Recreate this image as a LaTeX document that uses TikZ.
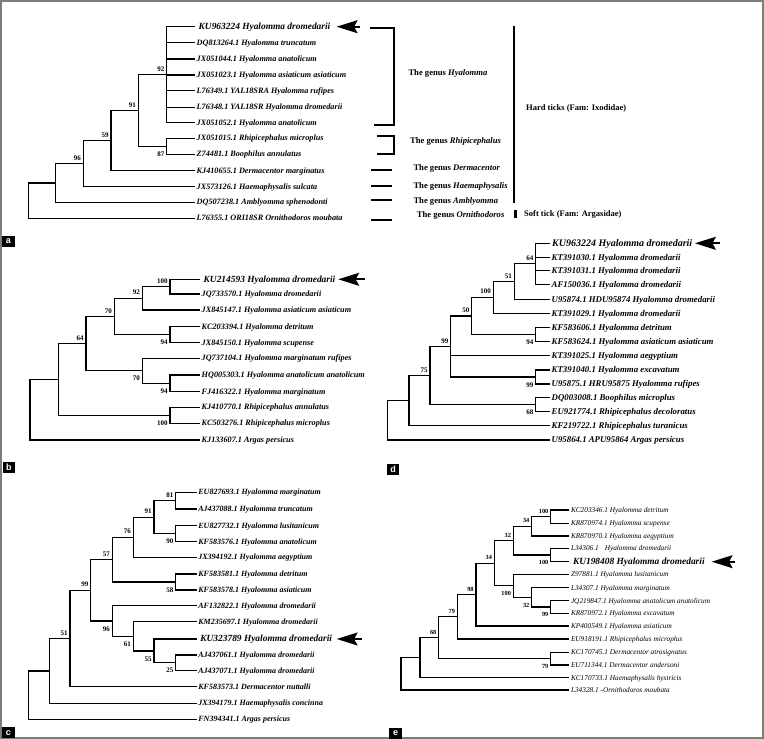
\documentclass[tikz,border=0pt]{standalone}
\usepackage{fontspec}
\setmainfont{Liberation Serif}
\newfontfamily\lblsans{Liberation Sans}
\usetikzlibrary{arrows.meta}
\newcommand\bsu[4]{\node[#1,anchor=east] (#2) at ([shift={(-2.2,-5.8)}]#3) {#4};}
\newcommand\bsd[4]{\node[#1,anchor=east] (#2) at ([shift={(-2.2,7.8)}]#3) {#4};}
\newcommand\kuarr[2]{\fill (#1) -- ++(21,-6.6) -- ++(-3.6,6.6) -- ++(3.6,6.6) -- cycle;
  \draw[line width=2.2pt] ([shift={(17,0)}]#1) -- (#2);}
\begin{document}
\begin{tikzpicture}[x=1pt,y=-1pt,
  edge/.style={line width=1.35pt},
  lf/.style={anchor=west, inner xsep=1.5pt, inner ysep=0pt, text depth=0pt},
  fa/.style={lf, font=\fontsize{8.2}{9}\selectfont\bfseries\itshape, text height=5.1pt},
  fc/.style={lf, font=\fontsize{8.0}{9}\selectfont\bfseries\itshape, text height=5.0pt},
  fd/.style={lf, font=\fontsize{8.8}{9}\selectfont\bfseries\itshape, text height=5.5pt},
  fe/.style={lf, font=\fontsize{7.3}{8}\selectfont\itshape, text height=4.6pt},
  ku/.style={lf, inner xsep=3.5pt, font=\fontsize{9.4}{10}\selectfont\bfseries\itshape, text height=5.9pt},
  kud/.style={lf, inner xsep=2pt, font=\fontsize{10}{11}\selectfont\bfseries\itshape, text height=6.2pt},
  bs/.style={inner sep=0pt, font=\fontsize{7}{8}\selectfont\bfseries, text height=4.7pt, text depth=0pt},
  bse/.style={inner sep=0pt, font=\fontsize{6.3}{7}\selectfont\bfseries, text height=4.2pt, text depth=0pt},
  gen/.style={anchor=west, inner sep=0pt, font=\fontsize{8.6}{10}\selectfont\bfseries},
  fam/.style={anchor=west, inner sep=0pt, font=\fontsize{8.5}{10}\selectfont\bfseries},
  brk/.style={line width=2.2pt},
  bigbar/.style={line width=2.6pt},
  plab/.style={fill=black, text=white, font=\fontsize{9}{9}\selectfont\lblsans\bfseries, minimum width=12.5pt, minimum height=11pt, inner sep=0pt}
]
\useasboundingbox (0,0) rectangle (764,739);
\draw[line width=1.6pt, color={rgb,255:red,125;green,125;blue,125}] (0.8,0.8) rectangle (763.2,737.8);

% ================= Panel a =================
\node[ku] (a1) at (195,26.7) {KU963224 Hyalomma dromedarii};
\node[fa] (a2) at (195,42.7) {DQ813264.1 Hyalomma truncatum};
\node[fa] (a3) at (195,59) {JX051044.1 Hyalomma anatolicum};
\node[fa] (a4) at (195,75) {JX051023.1 Hyalomma asiaticum asiaticum};
\node[fa] (a5) at (195,90.7) {L76349.1 YAL18SRA Hyalomma rufipes};
\node[fa] (a6) at (195,107.3) {L76348.1 YAL18SR Hyalomma dromedarii};
\node[fa] (a7) at (195,122.7) {JX051052.1 Hyalomma anatolicum};
\node[fa] (a8) at (195,138.3) {JX051015.1 Rhipicephalus microplus};
\node[fa] (a9) at (195,154.3) {Z74481.1 Boophilus annulatus};
\node[fa] (a10) at (195,170.7) {KJ410655.1 Dermacentor marginatus};
\node[fa] (a11) at (195,186.7) {JX573126.1 Haemaphysalis sulcata};
\node[fa] (a12) at (195,202.3) {DQ507238.1 Amblyomma sphenodonti};
\node[fa] (a13) at (195,218.3) {L76355.1 ORI18SR Ornithodoros moubata};
\coordinate (aH) at (166.7,74.7);
\coordinate (aR) at (166.7,146.3);
\coordinate (a91) at (138.3,110.5);
\coordinate (a59) at (111,140.6);
\coordinate (a96) at (83.3,163.6);
\coordinate (aU) at (55.7,183);
\coordinate (aRt) at (28.3,200.6);
\draw[edge] (a1.west) -| (aH) |- (a7.west);
\foreach \i in {2,...,6} \draw[edge] (aH |- a\i.west) -- (a\i.west);
\draw[edge] (a8.west) -| (aR) |- (a9.west);
\draw[edge] (aH) -| (a91) |- (aR);
\draw[edge] (a91) -| (a59) |- (a10.west);
\draw[edge] (a59) -| (a96) |- (a11.west);
\draw[edge] (a96) -| (aU) |- (a12.west);
\draw[edge] (aU) -| (aRt) |- (a13.west);
\bsu{bs}{la92}{aH}{92}
\bsd{bs}{la87}{aR}{87}
\bsu{bs}{la91}{a91}{91}
\bsu{bs}{la59}{a59}{59}
\bsu{bs}{la96}{a96}{96}
\coordinate (aArT) at (360,26.7); \coordinate (aArH) at (336.7,26.7);
\kuarr{aArH}{aArT}
% brackets
\draw[brk] (370,28.3) -- (394.3,28.3) -- (394.3,125) -- (374.3,125);
\draw[brk] (376.7,136) -- (394.3,136) -- (394.3,154.3) -- (376.7,154.3);
\draw[brk] (371,170) -- (392.3,170);
\draw[brk] (371,185.7) -- (392.3,185.7);
\draw[brk] (371,200) -- (392.3,200);
\draw[brk] (371,220) -- (392.3,220);
\node[gen] (gH) at (408.3,73.3) {The genus \textit{Hyalomma}};
\node[gen] (gR) at (410,141.7) {The genus \textit{Rhipicephalus}};
\node[gen] (gD) at (413.3,168.3) {The genus \textit{Dermacentor}};
\node[gen] (gHa) at (413.3,186) {The genus \textit{Haemaphysalis}};
\node[gen] (gA) at (413.3,201) {The genus \textit{Amblyomma}};
\node[gen] (gO) at (416.7,215.7) {The genus \textit{Ornithodoros}};
\draw[bigbar] (514,26) -- (514,202.7);
\draw[bigbar] (515.3,210) -- (515.3,218.3);
\node[fam] (hard) at (526,108.3) {Hard ticks (Fam: Ixodidae)};
\node[fam] (soft) at (524,214.3) {Soft tick (Fam: Argasidae)};
\node[plab] (pa) at (8.5,241.5) {a};

% ================= Panel b =================
\node[ku] (b1) at (200,279.3) {KU214593 Hyalomma dromedarii};
\node[fa] (b2) at (200,294) {JQ733570.1 Hyalomma dromedarii};
\node[fa] (b3) at (200,310) {JX845147.1 Hyalomma asiaticum asiaticum};
\node[fa] (b4) at (200,326.7) {KC203394.1 Hyalomma detritum};
\node[fa] (b5) at (200,342.7) {JX845150.1 Hyalomma scupense};
\node[fa] (b6) at (200,358.3) {JQ737104.1 Hyalomma marginatum rufipes};
\node[fa] (b7) at (200,375) {HQ005303.1 Hyalomma anatolicum anatolicum};
\node[fa] (b8) at (200,391.7) {FJ416322.1 Hyalomma marginatum};
\node[fa] (b9) at (200,407.3) {KJ410770.1 Rhipicephalus annulatus};
\node[fa] (b10) at (200,423.3) {KC503276.1 Rhipicephalus microplus};
\node[fa] (b11) at (200,440) {KJ133607.1 Argas persicus};
\coordinate (b100a) at (170,286.7);
\coordinate (b92) at (142.3,298.3);
\coordinate (b94a) at (170,334.7);
\coordinate (b70a) at (114.3,316.5);
\coordinate (b94b) at (170,383.3);
\coordinate (b70b) at (142.3,370.8);
\coordinate (b64) at (86,343.7);
\coordinate (b100b) at (170,415.3);
\coordinate (bU) at (58.3,379.5);
\coordinate (bRt) at (30,409.7);
\draw[edge] (b1.west) -| (b100a) |- (b2.west);
\draw[edge] (b100a) -| (b92) |- (b3.west);
\draw[edge] (b4.west) -| (b94a) |- (b5.west);
\draw[edge] (b92) -| (b70a) |- (b94a);
\draw[edge] (b7.west) -| (b94b) |- (b8.west);
\draw[edge] (b6.west) -| (b70b) |- (b94b);
\draw[edge] (b70a) -| (b64) |- (b70b);
\draw[edge] (b9.west) -| (b100b) |- (b10.west);
\draw[edge] (b64) -| (bU) |- (b100b);
\draw[edge] (bU) -| (bRt) |- (b11.west);
\bsu{bs}{lb100a}{b100a}{100}
\bsu{bs}{lb92}{b92}{92}
\bsd{bs}{lb94a}{b94a}{94}
\bsu{bs}{lb70a}{b70a}{70}
\bsd{bs}{lb94b}{b94b}{94}
\bsd{bs}{lb70b}{b70b}{70}
\bsu{bs}{lb64}{b64}{64}
\bsd{bs}{lb100b}{b100b}{100}
\coordinate (bArT) at (365,279.3); \coordinate (bArH) at (338.3,279.3);
\kuarr{bArH}{bArT}
\node[plab] (pb) at (8.8,467.5) {b};

% ================= Panel c =================
\node[fc] (c1) at (196.7,492.3) {EU827693.1 Hyalomma marginatum};
\node[fc] (c2) at (196.7,509) {AJ437088.1 Hyalomma truncatum};
\node[fc] (c3) at (196.7,525.7) {EU827732.1 Hyalomma lusitanicum};
\node[fc] (c4) at (196.7,541.7) {KF583576.1 Hyalomma anatolicum};
\node[fc] (c5) at (196.7,557.3) {JX394192.1 Hyalomma aegyptium};
\node[fc] (c6) at (196.7,574) {KF583581.1 Hyalomma detritum};
\node[fc] (c7) at (196.7,590) {KF583578.1 Hyalomma asiaticum};
\node[fc] (c8) at (196.7,605.7) {AF132822.1 Hyalomma dromedarii};
\node[fc] (c9) at (196.7,621.7) {KM235697.1 Hyalomma dromedarii};
\node[ku] (c10) at (196.7,639) {KU323789 Hyalomma dromedarii};
\node[fc] (c11) at (196.7,655) {AJ437061.1 Hyalomma dromedarii};
\node[fc] (c12) at (196.7,670.7) {AJ437071.1 Hyalomma dromedarii};
\node[fc] (c13) at (196.7,686.7) {KF583573.1 Dermacentor nuttalli};
\node[fc] (c14) at (196.7,703.3) {JX394179.1 Haemaphysalis concinna};
\node[fc] (c15) at (196.7,719.3) {FN394341.1 Argas persicus};
\coordinate (c81) at (175.7,500.7);
\coordinate (c90) at (175.7,533.7);
\coordinate (c91) at (154,517.2);
\coordinate (c76) at (133.3,537.3);
\coordinate (c58) at (175.7,582);
\coordinate (c57) at (112.3,559.7);
\coordinate (c25) at (175.7,662.8);
\coordinate (c55) at (154,651);
\coordinate (c61) at (133.3,636.3);
\coordinate (c96) at (112.3,621);
\coordinate (c99) at (90.7,590.3);
\coordinate (c51) at (70,638.5);
\coordinate (cU) at (49.3,670.9);
\coordinate (cRt) at (28.3,695.1);
\draw[edge] (c1.west) -| (c81) |- (c2.west);
\draw[edge] (c3.west) -| (c90) |- (c4.west);
\draw[edge] (c81) -| (c91) |- (c90);
\draw[edge] (c91) -| (c76) |- (c5.west);
\draw[edge] (c6.west) -| (c58) |- (c7.west);
\draw[edge] (c76) -| (c57) |- (c58);
\draw[edge] (c11.west) -| (c25) |- (c12.west);
\draw[edge] (c10.west) -| (c55) |- (c25);
\draw[edge] (c9.west) -| (c61) |- (c55);
\draw[edge] (c8.west) -| (c96) |- (c61);
\draw[edge] (c57) -| (c99) |- (c96);
\draw[edge] (c99) -| (c51) |- (c13.west);
\draw[edge] (c51) -| (cU) |- (c14.west);
\draw[edge] (cU) -| (cRt) |- (c15.west);
\bsu{bs}{lc81}{c81}{81}
\bsd{bs}{lc90}{c90}{90}
\bsu{bs}{lc91}{c91}{91}
\bsu{bs}{lc76}{c76}{76}
\bsd{bs}{lc58}{c58}{58}
\bsu{bs}{lc57}{c57}{57}
\bsd{bs}{lc25}{c25}{25}
\bsd{bs}{lc55}{c55}{55}
\bsd{bs}{lc61}{c61}{61}
\bsd{bs}{lc96}{c96}{96}
\bsu{bs}{lc99}{c99}{99}
\bsu{bs}{lc51}{c51}{51}
\coordinate (cArT) at (361.7,639); \coordinate (cArH) at (336.7,639);
\kuarr{cArH}{cArT}
\node[plab] (pc) at (8.3,732.8) {c};

% ================= Panel d =================
\node[kud] (d1) at (550,243.3) {KU963224 Hyalomma dromedarii};
\node[fd] (d2) at (550,257.3) {KT391030.1 Hyalomma dromedarii};
\node[fd] (d3) at (550,270.7) {KT391031.1 Hyalomma dromedarii};
\node[fd] (d4) at (550,284.3) {AF150036.1 Hyalomma dromedarii};
\node[fd] (d5) at (550,299.3) {U95874.1 HDU95874 Hyalomma dromedarii};
\node[fd] (d6) at (550,313.3) {KT391029.1 Hyalomma dromedarii};
\node[fd] (d7) at (550,327.3) {KF583606.1 Hyalomma detritum};
\node[fd] (d8) at (550,341.7) {KF583624.1 Hyalomma asiaticum asiaticum};
\node[fd] (d9) at (550,355.7) {KT391025.1 Hyalomma aegyptium};
\node[fd] (d10) at (550,370) {KT391040.1 Hyalomma excavatum};
\node[fd] (d11) at (550,384) {U95875.1 HRU95875 Hyalomma rufipes};
\node[fd] (d12) at (550,397.7) {DQ003008.1 Boophilus microplus};
\node[fd] (d13) at (550,411.7) {EU921774.1 Rhipicephalus decoloratus};
\node[fd] (d14) at (550,425.7) {KF219722.1 Rhipicephalus turanicus};
\node[fd] (d15) at (550,440) {U95864.1 APU95864 Argas persicus};
\coordinate (d64) at (535.7,263.8);
\coordinate (d51) at (514.3,281.5);
\coordinate (d100) at (493.3,297.4);
\coordinate (d94) at (535.7,334.5);
\coordinate (d50) at (471.7,316);
\coordinate (d99b) at (535.7,377);
\coordinate (d99) at (450.7,346.5);
\coordinate (d68) at (535.7,404.7);
\coordinate (d75) at (430,375.6);
\coordinate (dU) at (409,400.7);
\coordinate (dRt) at (387.3,420.4);
\draw[edge] (d1.west) -| (d64) |- (d4.west);
\foreach \i in {2,3} \draw[edge] (d64 |- d\i.west) -- (d\i.west);
\draw[edge] (d64) -| (d51) |- (d5.west);
\draw[edge] (d51) -| (d100) |- (d6.west);
\draw[edge] (d7.west) -| (d94) |- (d8.west);
\draw[edge] (d100) -| (d50) |- (d94);
\draw[edge] (d10.west) -| (d99b) |- (d11.west);
\draw[edge] (d50) -| (d99) |- (d99b);
\draw[edge] (d99 |- d9.west) -- (d9.west);
\draw[edge] (d12.west) -| (d68) |- (d13.west);
\draw[edge] (d99) -| (d75) |- (d68);
\draw[edge] (d75) -| (dU) |- (d14.west);
\draw[edge] (dU) -| (dRt) |- (d15.west);
\bsu{bs}{ld64}{d64}{64}
\bsu{bs}{ld51}{d51}{51}
\bsu{bs}{ld100}{d100}{100}
\bsd{bs}{ld94}{d94}{94}
\bsu{bs}{ld50}{d50}{50}
\bsd{bs}{ld99b}{d99b}{99}
\bsu{bs}{ld99}{d99}{99}
\bsd{bs}{ld68}{d68}{68}
\bsu{bs}{ld75}{d75}{75}
\coordinate (dArT) at (720,243.3); \coordinate (dArH) at (695,243.3);
\kuarr{dArH}{dArT}
\node[plab] (pd) at (393.2,469.2) {d};

% ================= Panel e =================
\node[fe] (e1) at (569.3,510) {KC203346.1 Hyalomma detritum};
\node[fe] (e2) at (569.3,523.3) {KR870974.1 Hyalomma scupense};
\node[fe] (e3) at (569.3,536) {KR870970.1 Hyalomma aegyptium};
\node[fe] (e4) at (569.3,548.3) {L34306.1\hspace{6pt}Hyalomma dromedarii};
\node[ku] (e5) at (569.3,561.7) {KU198408 Hyalomma dromedarii};
\node[fe] (e6) at (569.3,574.3) {Z97881.1 Hyalomma lusitanicum};
\node[fe] (e7) at (569.3,587.7) {L34307.1 Hyalomma marginatum};
\node[fe] (e8) at (569.3,600.7) {JQ219847.1 Hyalomma anatolicum anatolicum};
\node[fe] (e9) at (569.3,613.3) {KR870972.1 Hyalomma excavatum};
\node[fe] (e10) at (569.3,626) {KP400549.1 Hyalomma asiaticum};
\node[fe] (e11) at (569.3,639) {EU918191.1 Rhipicephalus microplus};
\node[fe] (e12) at (569.3,652.3) {KC170745.1 Dermacentor atrosignatus};
\node[fe] (e13) at (569.3,665) {EU711344.1 Dermacentor andersoni};
\node[fe] (e14) at (569.3,677.7) {KC170733.1 Haemaphysalis hystricis};
\node[fe] (e15) at (569.3,690) {L34328.1 -Ornithodoros moubata};
\coordinate (e100a) at (550.7,516.7);
\coordinate (e34a) at (531.7,526.3);
\coordinate (e100b) at (550.7,555);
\coordinate (e32a) at (513.3,540.7);
\coordinate (e99) at (550.7,607);
\coordinate (e32b) at (531.7,597.3);
\coordinate (e100c) at (513.3,585.8);
\coordinate (e34b) at (494.3,563.3);
\coordinate (e98) at (476,594.7);
\coordinate (e79a) at (457.3,616.8);
\coordinate (e79b) at (550.7,658.7);
\coordinate (e68) at (438.7,637.8);
\coordinate (eU) at (420,657.7);
\coordinate (eRt) at (401,673.9);
\draw[edge] (e1.west) -| (e100a) |- (e2.west);
\draw[edge] (e100a) -| (e34a) |- (e3.west);
\draw[edge] (e4.west) -| (e100b) |- (e5.west);
\draw[edge] (e34a) -| (e32a) |- (e100b);
\draw[edge] (e8.west) -| (e99) |- (e9.west);
\draw[edge] (e7.west) -| (e32b) |- (e99);
\draw[edge] (e6.west) -| (e100c) |- (e32b);
\draw[edge] (e32a) -| (e34b) |- (e100c);
\draw[edge] (e34b) -| (e98) |- (e10.west);
\draw[edge] (e98) -| (e79a) |- (e11.west);
\draw[edge] (e12.west) -| (e79b) |- (e13.west);
\draw[edge] (e79a) -| (e68) |- (e79b);
\draw[edge] (e68) -| (eU) |- (e14.west);
\draw[edge] (eU) -| (eRt) |- (e15.west);
\bsu{bse}{le100a}{e100a}{100}
\bsu{bse}{le34a}{e34a}{34}
\bsd{bse}{le100b}{e100b}{100}
\bsu{bse}{le32a}{e32a}{32}
\bsd{bse}{le99}{e99}{99}
\bsd{bse}{le32b}{e32b}{32}
\bsd{bse}{le100c}{e100c}{100}
\bsu{bse}{le34b}{e34b}{34}
\bsu{bse}{le98}{e98}{98}
\bsu{bse}{le79a}{e79a}{79}
\bsd{bse}{le79b}{e79b}{79}
\bsu{bse}{le68}{e68}{68}
\coordinate (eArT) at (735,561.7); \coordinate (eArH) at (711.7,561.7);
\kuarr{eArH}{eArT}
\node[plab] (pe) at (395.5,733) {e};
\end{tikzpicture}
\end{document}
